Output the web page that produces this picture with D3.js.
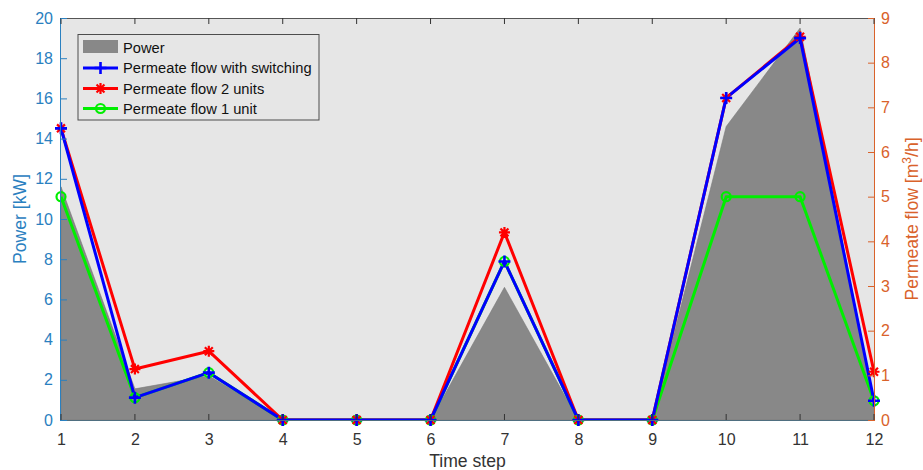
<!DOCTYPE html>
<html>
<head>
<meta charset="utf-8">
<script src="https://cdn.jsdelivr.net/npm/d3@7"></script>
<style>
  html, body { margin: 0; padding: 0; background: #ffffff; }
  svg { display: block; font-family: "Liberation Sans", Arial, sans-serif; }
</style>
</head>
<body>
<svg id="chart" width="923" height="470"></svg>
<script>
// Time steps and series
const timeSteps = [1, 2, 3, 4, 5, 6, 7, 8, 9, 10, 11, 12];
const powerKW = [11.6, 1.55, 2.2, 0, 0, 0, 6.6, 0, 0, 14.6, 19.5, 0.95];
const flowSwitching = [6.53, 0.5, 1.06, 0, 0, 0, 3.55, 0, 0, 7.21, 8.55, 0.43];
const flowTwoUnits = [6.53, 1.14, 1.54, 0, 0, 0, 4.2, 0, 0, 7.21, 8.58, 1.08];
const flowOneUnit = [5.0, 0.5, 1.06, 0, 0, 0, 3.55, 0, 0, 5.0, 5.0, 0.43];
const leftTicks = [0, 2, 4, 6, 8, 10, 12, 14, 16, 18, 20];
const rightTicks = [0, 1, 2, 3, 4, 5, 6, 7, 8, 9];
const legendLabels = ["Power", "Permeate flow with switching", "Permeate flow 2 units", "Permeate flow 1 unit"];

const leftColor = "#2a80c0";
const rightColor = "#d9622b";
const textColor = "#333333";
const tickFont = "16px";
const titleFont = "17.6px";

const plot = { left: 61, right: 874, top: 18, bottom: 420 };
const svg = d3.select("#chart");

const x = d3.scaleLinear().domain([1, 12]).range([plot.left, plot.right]);
const yL = d3.scaleLinear().domain([0, 20]).range([plot.bottom, plot.top]);
const yR = d3.scaleLinear().domain([0, 9]).range([plot.bottom, plot.top]);

// Axes background
svg.append("rect")
  .attr("x", plot.left).attr("y", plot.top)
  .attr("width", plot.right - plot.left).attr("height", plot.bottom - plot.top)
  .attr("fill", "#e6e6e6");

svg.append("clipPath").attr("id", "plotClip")
  .append("rect")
  .attr("x", plot.left).attr("y", plot.top)
  .attr("width", plot.right - plot.left).attr("height", plot.bottom - plot.top);

const inner = svg.append("g").attr("clip-path", "url(#plotClip)");

// Power area on the left axis
const area = d3.area()
  .x((d, i) => x(timeSteps[i]))
  .y0(yL(0))
  .y1(d => yL(d));
inner.append("path")
  .datum(powerKW)
  .attr("d", area)
  .attr("fill", "#888888")
  .attr("stroke", "#7a7a7a")
  .attr("stroke-width", 0.6);

// Flow lines on the right axis
const line = d3.line()
  .x((d, i) => x(timeSteps[i]))
  .y(d => yR(d));

const series = [
  { values: flowOneUnit, color: "#00ee00", marker: "circle" },
  { values: flowTwoUnits, color: "#ff0000", marker: "star" },
  { values: flowSwitching, color: "#0000ff", marker: "plus" }
];

function drawMarker(g, type, cx, cy, color) {
  if (type === "circle") {
    g.append("circle").attr("cx", cx).attr("cy", cy).attr("r", 4.5)
      .attr("fill", "none").attr("stroke", color).attr("stroke-width", 2.2);
  } else if (type === "plus") {
    g.append("path")
      .attr("d", `M${cx - 6},${cy}H${cx + 6}M${cx},${cy - 6}V${cy + 6}`)
      .attr("stroke", color).attr("stroke-width", 2.6).attr("fill", "none");
  } else {
    const r = 5.5, k = r * 0.72;
    g.append("path")
      .attr("d", `M${cx - r},${cy}H${cx + r}M${cx},${cy - r}V${cy + r}` +
                 `M${cx - k},${cy - k}L${cx + k},${cy + k}M${cx - k},${cy + k}L${cx + k},${cy - k}`)
      .attr("stroke", color).attr("stroke-width", 2.2).attr("fill", "none");
  }
}

series.forEach(s => {
  inner.append("path")
    .datum(s.values)
    .attr("d", line)
    .attr("fill", "none")
    .attr("stroke", s.color)
    .attr("stroke-width", 3)
    .attr("stroke-linejoin", "round");
});
const markerLayer = svg.append("g");
series.forEach(s => {
  s.values.forEach((v, i) => drawMarker(markerLayer, s.marker, x(timeSteps[i]), yR(v), s.color));
});

// Axes frame
svg.append("line").attr("x1", plot.left).attr("x2", plot.right)
  .attr("y1", plot.top + 0.5).attr("y2", plot.top + 0.5)
  .attr("stroke", "#555").attr("stroke-width", 1);
svg.append("line").attr("x1", plot.left).attr("x2", plot.right)
  .attr("y1", plot.bottom + 0.5).attr("y2", plot.bottom + 0.5)
  .attr("stroke", "#4f6f80").attr("stroke-width", 1);
svg.append("line").attr("x1", plot.left - 0.5).attr("x2", plot.left - 0.5)
  .attr("y1", plot.top).attr("y2", plot.bottom + 1)
  .attr("stroke", leftColor).attr("stroke-width", 1);
svg.append("line").attr("x1", plot.right + 0.5).attr("x2", plot.right + 0.5)
  .attr("y1", plot.top).attr("y2", plot.bottom + 1)
  .attr("stroke", rightColor).attr("stroke-width", 1);

// X axis ticks (inward, top and bottom) and labels
const xAxisBottom = d3.axisBottom(x).tickValues(timeSteps).tickSize(0).tickPadding(14).tickFormat(d3.format("d"));
const gx = svg.append("g").attr("transform", `translate(0,${plot.bottom})`).call(xAxisBottom);
gx.select(".domain").remove();
gx.selectAll("text").attr("fill", textColor).style("font-size", tickFont)
  .style("font-family", "'Liberation Sans', Arial, sans-serif");
timeSteps.forEach(t => {
  svg.append("line").attr("x1", x(t)).attr("x2", x(t)).attr("y1", plot.top).attr("y2", plot.top + 6)
    .attr("stroke", "#333").attr("stroke-width", 1);
  svg.append("line").attr("x1", x(t)).attr("x2", x(t)).attr("y1", plot.bottom).attr("y2", plot.bottom - 6)
    .attr("stroke", "#333").attr("stroke-width", 1);
});

// Left axis
const gl = svg.append("g").attr("transform", `translate(${plot.left},0)`)
  .call(d3.axisLeft(yL).tickValues(leftTicks).tickSizeInner(-6).tickSizeOuter(0).tickPadding(8));
gl.select(".domain").remove();
gl.selectAll("line").attr("stroke", leftColor);
gl.selectAll("text").attr("fill", leftColor).style("font-size", tickFont)
  .style("font-family", "'Liberation Sans', Arial, sans-serif");

// Right axis
const gr = svg.append("g").attr("transform", `translate(${plot.right},0)`)
  .call(d3.axisRight(yR).tickValues(rightTicks).tickSizeInner(-6).tickSizeOuter(0).tickPadding(7));
gr.select(".domain").remove();
gr.selectAll("line").attr("stroke", rightColor);
gr.selectAll("text").attr("fill", rightColor).style("font-size", tickFont)
  .style("font-family", "'Liberation Sans', Arial, sans-serif");

// Axis titles
const midY = (plot.top + plot.bottom) / 2;
svg.append("text")
  .attr("transform", `translate(26,${midY}) rotate(-90)`)
  .attr("text-anchor", "middle")
  .attr("fill", leftColor).style("font-size", titleFont)
  .text("Power [kW]");

const rightTitle = svg.append("text")
  .attr("transform", `translate(918,${midY}) rotate(-90)`)
  .attr("text-anchor", "middle")
  .attr("fill", rightColor).style("font-size", titleFont);
rightTitle.append("tspan").text("Permeate flow [m");
rightTitle.append("tspan").attr("dy", -7).style("font-size", "12px").text("3");
rightTitle.append("tspan").attr("dy", 7).text("/h]");

svg.append("text")
  .attr("x", (plot.left + plot.right) / 2).attr("y", 467)
  .attr("text-anchor", "middle")
  .attr("fill", textColor).style("font-size", titleFont)
  .text("Time step");

// Legend
const lg = svg.append("g");
lg.append("rect")
  .attr("x", 78).attr("y", 34.5).attr("width", 241).attr("height", 85.5)
  .attr("fill", "#e6e6e6").attr("stroke", "#4d4d4d").attr("stroke-width", 1);
const rowY = [47.5, 68, 88.5, 108.5];
lg.append("rect").attr("x", 83).attr("y", 40).attr("width", 35).attr("height", 13)
  .attr("fill", "#888888");
const legendSeries = [series[2], series[1], series[0]];
legendSeries.forEach((s, i) => {
  const y = rowY[i + 1];
  lg.append("line").attr("x1", 83).attr("x2", 118).attr("y1", y).attr("y2", y)
    .attr("stroke", s.color).attr("stroke-width", 3);
  drawMarker(lg, s.marker, 100.5, y, s.color);
});
legendLabels.forEach((t, i) => {
  lg.append("text").attr("x", 123).attr("y", rowY[i] + 5.3)
    .attr("fill", "#111").style("font-size", "14.7px").text(t);
});
</script>
</body>
</html>
